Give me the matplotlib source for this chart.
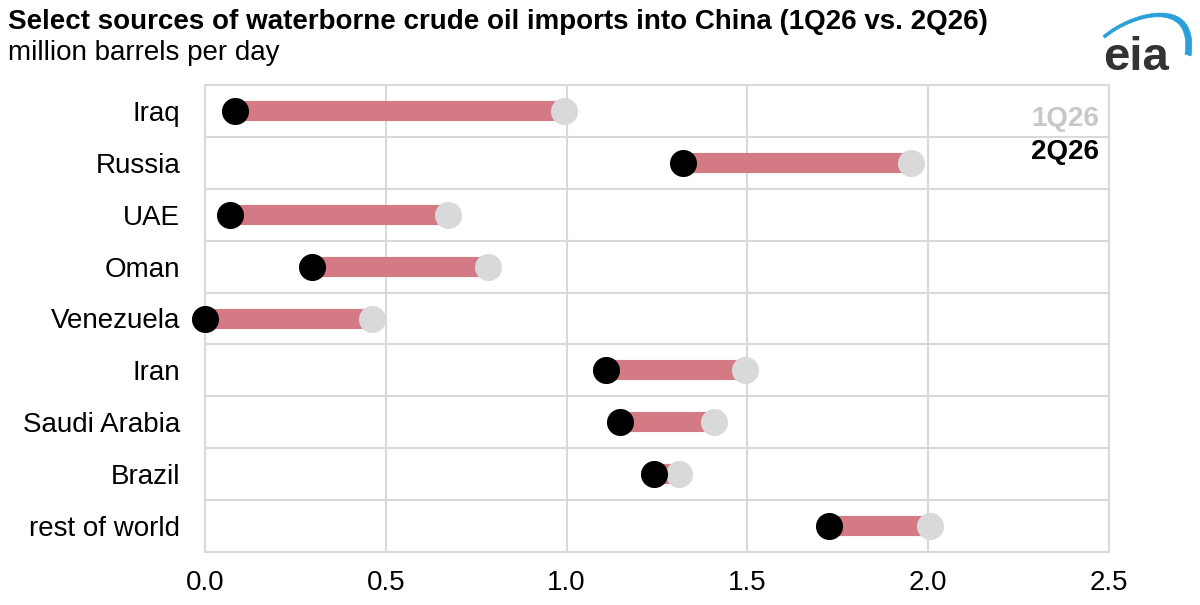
import matplotlib
matplotlib.use("Agg")
import matplotlib.pyplot as plt
import numpy as np
from matplotlib.patches import PathPatch
from matplotlib.path import Path

countries = ["Iraq", "Russia", "UAE", "Oman", "Venezuela", "Iran", "Saudi Arabia", "Brazil", "rest of world"]
q1_2026 = [0.994, 1.953, 0.671, 0.782, 0.462, 1.494, 1.409, 1.312, 2.006]
q2_2026 = [0.083, 1.322, 0.069, 0.296, 0.0, 1.108, 1.149, 1.243, 1.727]
x_ticks = [0.0, 0.5, 1.0, 1.5, 2.0, 2.5]
x_ticklabels = ["0.0", "0.5", "1.0", "1.5", "2.0", "2.5"]

plt.rcParams['font.family'] = ['Liberation Sans', 'DejaVu Sans']

fig = plt.figure(figsize=(12, 6.05), dpi=100)
ax = fig.add_axes([205/1200, 53/605, 904/1200, 467/605])

grid_c = "#d9d9d9"
bar_c = "#d47a84"
q1_c = "#d9d9d9"
q2_c = "#000000"

y = np.arange(len(countries))
for yi, a, b in zip(y, q1_2026, q2_2026):
    ax.plot([b, a], [yi, yi], color=bar_c, lw=14.5, solid_capstyle='butt', zorder=3)
ax.plot(q1_2026, y, 'o', ms=19.5, color=q1_c, mec='none', zorder=4, clip_on=False)
ax.plot(q2_2026, y, 'o', ms=19.5, color=q2_c, mec='none', zorder=5, clip_on=False)

ax.set_xlim(0, 2.5)
ax.set_ylim(len(countries) - 0.5, -0.5)
ax.set_xticks(x_ticks)
ax.set_xticklabels(x_ticklabels, fontsize=20)
ax.set_yticks(y)
ax.set_yticklabels(countries, fontsize=20)
ax.set_yticks(np.arange(-0.5, len(countries), 1), minor=True)
ax.tick_params(axis='both', which='both', length=0)
ax.tick_params(axis='x', pad=13)
ax.tick_params(axis='y', pad=18)
ax.grid(True, axis='x', which='major', color=grid_c, lw=1.5, zorder=0)
ax.grid(True, axis='y', which='minor', color=grid_c, lw=1.5, zorder=0)
ax.grid(False, axis='y', which='major')
for s in ax.spines.values():
    s.set_color(grid_c)
    s.set_linewidth(1.5)

fig.text(1099/1200, 1 - 119/605, "1Q26", ha='right', va='center',
         fontsize=20, fontweight='bold', color="#c8c8c8")
fig.text(1099/1200, 1 - 152/605, "2Q26", ha='right', va='center',
         fontsize=20, fontweight='bold', color="#000000")

fig.text(8/1200, 1 - 22/605, "Select sources of waterborne crude oil imports into China (1Q26 vs. 2Q26)",
         fontsize=20, fontweight='bold', ha='left', va='center')
fig.text(8/1200, 1 - 53/605, "million barrels per day", fontsize=20, ha='left', va='center')

# eia logo
fig.text(1136/1200, 1 - 70/605, "eia", fontsize=34, fontweight='bold', color="#333333",
         ha='center', va='baseline')
lax = fig.add_axes([0, 0, 1, 1], zorder=-1)
lax.set_xlim(0, 1200); lax.set_ylim(605, 0); lax.axis('off')
verts = [(1103, 36), (1130, 12), (1200, -8), (1191, 56),
         (1185, 54), (1193, -1), (1132, 15), (1105, 38), (1103, 36)]
codes = [Path.MOVETO, Path.CURVE4, Path.CURVE4, Path.CURVE4,
         Path.LINETO, Path.CURVE4, Path.CURVE4, Path.CURVE4, Path.CLOSEPOLY]
lax.add_patch(PathPatch(Path(verts, codes), facecolor="#2a9fd8", edgecolor="#2a9fd8", lw=0.5))

fig.savefig("out.png", dpi=100)
